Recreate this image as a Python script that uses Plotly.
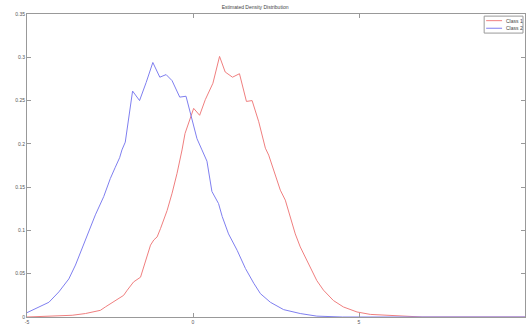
import plotly.graph_objects as go

# Class 2 (blue) estimated density
class2_x = [-5.0, -4.64, -4.34, -4.04, -3.74, -3.54, -3.34, -3.14, -2.94, -2.69, -2.49, -2.34, -2.21, -2.14,
            -2.04, -1.82, -1.61, -1.41, -1.21, -1.0, -0.81, -0.63, -0.40, -0.21, -0.03, 0.12, 0.27, 0.42,
            0.57, 0.77, 0.88, 1.07, 1.33, 1.58, 1.83, 2.03, 2.33, 2.73, 3.23, 3.73, 4.5, 10.0]
class2_y = [0.005, 0.012, 0.017, 0.029, 0.044, 0.060, 0.079, 0.098, 0.118, 0.139, 0.160, 0.173, 0.184, 0.193,
            0.202, 0.261, 0.250, 0.271, 0.294, 0.277, 0.280, 0.273, 0.254, 0.255, 0.228, 0.206, 0.193, 0.180,
            0.145, 0.131, 0.116, 0.096, 0.077, 0.056, 0.039, 0.027, 0.017, 0.0085, 0.004, 0.001, 0.0, 0.0]

# Class 1 (red) estimated density
class1_x = [-5.0, -3.64, -3.24, -2.94, -2.79, -2.64, -2.34, -2.09, -1.98, -1.79, -1.58, -1.43, -1.28, -1.18,
            -1.08, -0.98, -0.78, -0.63, -0.48, -0.33, -0.24, 0.02, 0.20, 0.37, 0.60, 0.80, 0.97, 1.19, 1.40,
            1.61, 1.78, 1.98, 2.18, 2.28, 2.43, 2.63, 2.78, 2.93, 3.08, 3.23, 3.38, 3.53, 3.73, 3.93, 4.23,
            4.53, 4.94, 5.34, 6.0, 6.9, 10.0]
class1_y = [0.0, 0.002, 0.004, 0.0066, 0.0077, 0.0116, 0.019, 0.025, 0.031, 0.0405, 0.046, 0.0656, 0.083, 0.089,
            0.0925, 0.102, 0.123, 0.143, 0.166, 0.193, 0.212, 0.241, 0.233, 0.251, 0.270, 0.301, 0.283, 0.277, 0.281,
            0.249, 0.250, 0.2255, 0.195, 0.187, 0.170, 0.1465, 0.135, 0.116, 0.096, 0.081, 0.069, 0.058, 0.042, 0.031, 0.019,
            0.0116, 0.0058, 0.003, 0.0015, 0.0, 0.0]

x_ticks = [-5, 0, 5, 10]
y_ticks = [0, 0.05, 0.1, 0.15, 0.2, 0.25, 0.3, 0.35]
y_tick_labels = ["0", "0.05", "0.1", "0.15", "0.2", "0.25", "0.3", "0.35"]
series_names = ["Class 1", "Class 2"]
RED = "#f07f7f"
BLUE = "#7f7ff0"

fig = go.Figure()
fig.add_trace(go.Scatter(x=class1_x, y=class1_y, mode="lines", name=series_names[0],
                         line=dict(color=RED, width=1), showlegend=False))
fig.add_trace(go.Scatter(x=class2_x, y=class2_y, mode="lines", name=series_names[1],
                         line=dict(color=BLUE, width=1), showlegend=False))

axis_common = dict(showgrid=False, zeroline=False, showline=True, linecolor="#999999", linewidth=1,
                   mirror="allticks", ticks="inside", ticklen=4, tickcolor="#999999",
                   tickfont=dict(family="Liberation Sans, Arial", size=5, color="#555555"))
fig.update_xaxes(range=[-5, 10], tickvals=x_ticks, ticktext=[str(t) for t in x_ticks], ticklabelstandoff=0,
                 **axis_common)
fig.update_yaxes(range=[0, 0.35], tickvals=y_ticks, ticktext=y_tick_labels, **axis_common)

# compact MATLAB-style legend
fig.add_shape(type="rect", xref="paper", yref="paper", x0=0.918, x1=0.996, y0=0.937, y1=0.993,
              line=dict(color="#999999", width=1), fillcolor="white")
fig.add_shape(type="line", xref="paper", yref="paper", x0=0.922, x1=0.954, y0=0.978, y1=0.978,
              line=dict(color=RED, width=1))
fig.add_shape(type="line", xref="paper", yref="paper", x0=0.922, x1=0.954, y0=0.953, y1=0.953,
              line=dict(color=BLUE, width=1))
for name, yy in zip(series_names, [0.978, 0.953]):
    fig.add_annotation(xref="paper", yref="paper", x=0.958, y=yy, text=name, showarrow=False,
                       xanchor="left", yanchor="middle",
                       font=dict(family="Liberation Sans, Arial", size=5, color="#444444"))

fig.update_layout(
    width=526, height=325,
    margin=dict(l=27, r=1, t=14, b=8),
    paper_bgcolor="white", plot_bgcolor="white",
    title=dict(text="Estimated Density Distribution", x=0.485, xanchor="center", y=0.978, yanchor="middle",
               font=dict(family="Liberation Sans, Arial", size=5, color="#444444")),
)

fig.write_html("out.html", config={"displayModeBar": False},
               post_script="document.body.style.margin='0px';")
